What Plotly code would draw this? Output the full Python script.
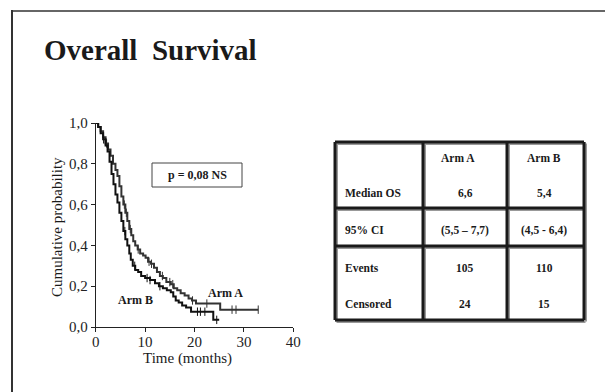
import numpy as np
import plotly.graph_objects as go

# ---------------- data ----------------
armA_t = [0, 0.5, 1.0, 1.5, 2.0, 2.5, 3.0, 3.5, 4.0, 4.4, 4.8, 5.2, 5.6, 6.0, 6.4, 6.8,
          7.2, 7.6, 8.0, 8.5, 9.0, 9.6, 10.1, 10.6, 11.2, 11.8, 12.4, 13.0, 13.6, 14.3,
          15.2, 15.8, 16.5, 17.2, 18.0, 18.8, 19.5, 20.3, 25.2]
armA_s = [1.0, 0.98, 0.96, 0.93, 0.90, 0.87, 0.84, 0.80, 0.77, 0.74, 0.69, 0.64, 0.60, 0.56,
          0.52, 0.48, 0.45, 0.42, 0.40, 0.38, 0.36, 0.35, 0.34, 0.32, 0.31, 0.29, 0.27, 0.25,
          0.24, 0.22, 0.21, 0.19, 0.18, 0.165, 0.155, 0.14, 0.13, 0.115, 0.085]
armA_end = 32.9
armA_cens = [2.2, 5.8, 6.2, 7.0, 8.6, 10.8, 11.3, 13.5, 15.0, 15.6, 19.6, 22.5, 27.6, 28.4, 32.9]

armB_t = [0, 0.5, 1.0, 1.5, 2.0, 2.4, 2.8, 3.2, 3.6, 4.0, 4.4, 4.8, 5.2, 5.6, 6.0, 6.4, 6.8,
          7.1, 7.5, 8.0, 8.6, 9.2, 10.0, 11.0, 12.0, 12.8, 13.6, 14.4, 15.2, 15.7, 16.2,
          16.8, 17.5, 18.3, 19.3, 23.8]
armB_s = [1.0, 0.98, 0.95, 0.92, 0.89, 0.86, 0.81, 0.75, 0.70, 0.65, 0.61, 0.56, 0.52, 0.47,
          0.43, 0.40, 0.36, 0.33, 0.30, 0.28, 0.27, 0.25, 0.24, 0.23, 0.215, 0.20, 0.19, 0.18,
          0.17, 0.15, 0.13, 0.12, 0.105, 0.095, 0.075, 0.035]
armB_end = 25.0
armB_cens = [1.6, 5.9, 7.9, 10.4, 11.0, 13.0, 20.6, 21.2, 22.1, 24.5]

x_ticks = [0, 10, 20, 30, 40]
y_ticks = [0.0, 0.2, 0.4, 0.6, 0.8, 1.0]

tbl_header = ["", "Arm A", "Arm B"]
tbl_rows = ["Median OS", "95% CI", "Events", "Censored"]
tbl_armA = ["6,6", "(5,5 \u2013 7,7)", "105", "24"]
tbl_armB = ["5,4", "(4,5 - 6,4)", "110", "15"]

W, H = 605, 392
FONT = "Liberation Serif, Times New Roman, serif"


def px(x):
    return x / W


def py(y):
    return 1 - y / H


def step_val(ts, ss, t):
    i = np.searchsorted(np.array(ts), t, side="right") - 1
    return ss[max(i, 0)]


fig = go.Figure()

for ts, ss, end, cens, col in [(armA_t, armA_s, armA_end, armA_cens, "#333333"),
                                (armB_t, armB_s, armB_end, armB_cens, "#111111")]:
    xs = list(ts) + [end]
    ys = list(ss) + [ss[-1]]
    fig.add_trace(go.Scatter(x=xs, y=ys, mode="lines", line=dict(shape="hv", color=col, width=2),
                             showlegend=False, cliponaxis=False))
    cy = [step_val(ts, ss, c) for c in cens]
    fig.add_trace(go.Scatter(x=cens, y=cy, mode="markers",
                             marker=dict(symbol="line-ns-open", size=6, color=col,
                                         line=dict(color=col, width=1)),
                             showlegend=False, cliponaxis=False))

fig.update_layout(
    width=W, height=H, margin=dict(l=0, r=0, t=0, b=0),
    paper_bgcolor="white", plot_bgcolor="white",
    separators=",.",
    template="none",
    font=dict(family=FONT, color="#222"),
    xaxis=dict(domain=[px(95.7), px(293.3)], range=[0, 40], tickvals=x_ticks,
               ticks="outside", ticklen=4, tickcolor="#222", showline=True, linecolor="#222",
               linewidth=1, showgrid=False, zeroline=False, automargin=False,
               ticklabelstandoff=-3,
               tickfont=dict(family=FONT, size=15, color="#222")),
    yaxis=dict(domain=[py(327), py(123)], range=[0, 1.0], tickvals=y_ticks, tickformat=".1f",
               ticks="outside", ticklen=4, tickcolor="#222", showline=True, linecolor="#222",
               linewidth=1, showgrid=False, zeroline=False, automargin=False,
               tickfont=dict(family=FONT, size=15, color="#222")),
)

shapes = []
# slide frame
shapes.append(dict(type="line", xref="paper", yref="paper", x0=px(12), x1=1, y0=py(11), y1=py(11),
                   line=dict(color="#666", width=2)))
shapes.append(dict(type="line", xref="paper", yref="paper", x0=px(12), x1=px(12), y0=py(10), y1=0,
                   line=dict(color="#333", width=2)))
# p-value box
shapes.append(dict(type="rect", xref="paper", yref="paper", x0=px(152), x1=px(242), y0=py(187), y1=py(163),
                   line=dict(color="#444", width=1)))

# table
L, C1, C2, R = 335, 423, 507, 584
T, D1, D2, B = 142, 208, 246, 320
segs = [(L, T, R, T), (L, D1, R, D1), (L, D2, R, D2), (L, B, R, B),
        (L, T, L, B), (C1, T, C1, B), (C2, T, C2, B), (R, T, R, B)]
for (x0, y0, x1, y1) in segs:
    shapes.append(dict(type="line", xref="paper", yref="paper", x0=px(x0 + 1.5), x1=px(x1 + 1.5),
                       y0=py(y0 + 1.5), y1=py(y1 + 1.5), line=dict(color="#999", width=3)))
for (x0, y0, x1, y1) in segs:
    shapes.append(dict(type="line", xref="paper", yref="paper", x0=px(x0), x1=px(x1),
                       y0=py(y0), y1=py(y1), line=dict(color="#1a1a1a", width=3)))
fig.update_layout(shapes=shapes)

ann = []


def text(x, y, s, size, bold=False, xanchor="center", angle=0):
    ann.append(dict(x=px(x), y=py(y), xref="paper", yref="paper", text=("<b>%s</b>" % s) if bold else s,
                    showarrow=False, xanchor=xanchor, yanchor="middle", textangle=angle,
                    font=dict(family=FONT, size=size, color="#1a1a1a")))


text(42, 50, "Overall\u00a0\u00a0Survival", 29, bold=True, xanchor="left")
text(57, 227, "Cumulative probability", 15, angle=-90)
text(187, 358, "Time (months)", 15)
text(197, 175, "p = 0,08 NS", 12, bold=True)
text(135, 300, "Arm B", 12, bold=True)
text(225, 293, "Arm A", 12, bold=True)

# table text
text(458, 158, tbl_header[1], 11.5, bold=True)
text(544, 158, tbl_header[2], 11.5, bold=True)
row_y = [193, 230, 268, 304]
for lab, a, b, yy in zip(tbl_rows, tbl_armA, tbl_armB, row_y):
    text(343, yy, lab, 11.5, bold=True, xanchor="left")
    text(465, yy, a, 11.5, bold=True)
    text(544, yy, b, 11.5, bold=True)

fig.update_layout(annotations=ann)
fig.write_html("out.html")
